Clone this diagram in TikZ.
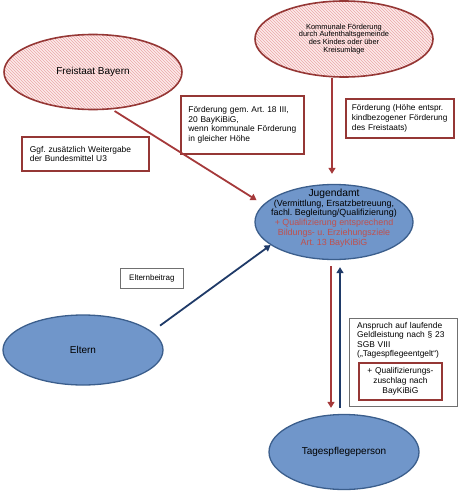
\documentclass[tikz,border=0pt]{standalone}
\usepackage{fontspec}
\setmainfont{Liberation Sans}
\usetikzlibrary{shapes.geometric,arrows.meta,patterns}
\definecolor{redline}{HTML}{953735}
\definecolor{redarrowc}{HTML}{A5393A}
\definecolor{hatchbg}{HTML}{FCEAEA}
\definecolor{hatchln}{HTML}{EBA8A8}
\definecolor{bluefill}{HTML}{7096CA}
\definecolor{blueline}{HTML}{3B5E8C}
\definecolor{bluearrowc}{HTML}{1F3A68}
\definecolor{redtext}{HTML}{C0504D}
\definecolor{greyline}{HTML}{707070}
\tikzset{
  redell/.style={ellipse, draw=redline, line width=1.6pt, preaction={fill=hatchbg}, pattern=north west lines, pattern color=hatchln, inner sep=0pt},
  blueell/.style={ellipse, draw=blueline, line width=1.3pt, fill=bluefill, inner sep=0pt},
  redbox/.style={draw=redline, line width=1.8pt, anchor=north west, align=left, inner xsep=8pt, font=\fontsize{8.4}{9.6}\selectfont},
  greybox/.style={draw=greyline, line width=0.7pt, anchor=north west},
  redarrow/.style={draw=redarrowc, line width=1.8pt, -{Triangle[length=6pt,width=7pt]}},
  bluearrow/.style={draw=bluearrowc, line width=1.8pt, -{Triangle[length=6pt,width=7pt]}},
}

\begin{document}
\frenchspacing
\begin{tikzpicture}[x=1pt, y=-1pt]
\useasboundingbox (0,0) rectangle (460,500);
% geldgeber
\node[redell, minimum width=178pt, minimum height=75pt, font=\fontsize{10}{12}\selectfont] (bayern) at (93,72) {Freistaat Bayern};
\node[redell, minimum width=178pt, minimum height=76pt, align=center, font=\fontsize{7.4}{7.9}\selectfont] (kommune) at (344,39) {Kommunale Förderung\\durch Aufenthaltsgemeinde\\des Kindes oder über\\Kreisumlage};
% jugendamt, eltern, tagespflege
\node[blueell, minimum width=158pt, minimum height=75pt] (jugendamt) at (334,222) {};
\node[align=center, inner sep=0pt, font=\fontsize{8.9}{9.8}\selectfont] (jugendamttext) at ([yshift=4pt]jugendamt.center) {{\fontsize{10.3}{11}\selectfont Jugendamt}\\(Vermittlung, Ersatzbetreuung,\\fachl. Begleitung/Qualifizierung)\\\textcolor{redtext}{+ Qualifizierung entsprechend}\\\textcolor{redtext}{Bildungs- u. Erziehungsziele}\\\textcolor{redtext}{Art. 13 BayKiBiG}};
\node[blueell, minimum width=160pt, minimum height=70pt, font=\fontsize{10}{12}\selectfont] (eltern) at (83,350) {Eltern};
\node[blueell, minimum width=150pt, minimum height=75pt, font=\fontsize{10}{12}\selectfont] (tpp) at (344,452) {Tagespflegeperson};
% kaesten
\node[redbox, minimum width=127pt, minimum height=34pt, text width=111pt] (bundesmittel) at (21,136) {Ggf. zusätzlich Weitergabe\\der Bundesmittel U3};
\node[redbox, minimum width=123pt, minimum height=58pt, text width=114pt, inner xsep=4.5pt, font=\fontsize{8.4}{9.6}\selectfont] (landbox) at (180,95) {\hspace*{3pt}Förderung gem. Art. 18 III,\\\hspace*{3pt}20 BayKiBiG,\\\hspace*{3pt}wenn kommunale Förderung\\\hspace*{3pt}in gleicher Höhe};
\node[redbox, minimum width=108pt, minimum height=39pt, text width=96pt, inner xsep=6pt, font=\fontsize{8.3}{9.6}\selectfont] (kommunebox) at (345,98) {Förderung (Höhe entspr.\\kindbezogener Förderung\\des Freistaats)};
\node[greybox, minimum width=63pt, minimum height=20pt, font=\fontsize{8}{9}\selectfont] (beitrag) at (120,268) {Elternbeitrag};
\node[greybox, minimum width=108pt, minimum height=88pt] (anspruchbox) at (349,318) {};
\node[anchor=north west, align=left, inner sep=0pt, text width=98pt, font=\fontsize{8.4}{9.4}\selectfont] (anspruch) at ([shift={(8,4)}]anspruchbox.north west) {Anspruch auf laufende\\Geldleistung nach § 23\\SGB VIII\\(„Tagespflegeentgelt“)};
\node[redbox, minimum width=83pt, minimum height=37pt, text width=75pt, inner xsep=4pt, align=center] (zuschlag) at (358,362) {+ Qualifizierungs-\\zuschlag nach\\BayKiBiG};
% pfeile
\draw[redarrow, shorten <=3pt, shorten >=8pt] (bayern.-63) -- (jugendamt.166);
\draw[redarrow, shorten >=10pt] ([xshift=-2pt]kommune.south -| jugendamt.north) -- ([xshift=-2pt]jugendamt.north);
\draw[bluearrow, shorten <=10pt] (eltern.15) -- (jugendamt.200);
\draw[redarrow, shorten <=6pt, shorten >=6pt] ([xshift=-3pt]jugendamt.south) -- ([xshift=-3pt]tpp.north -| jugendamt.south);
\draw[bluearrow, shorten <=6pt, shorten >=7pt] ([xshift=6pt]tpp.north -| jugendamt.south) -- ([xshift=6pt]jugendamt.south);
\end{tikzpicture}
\end{document}
